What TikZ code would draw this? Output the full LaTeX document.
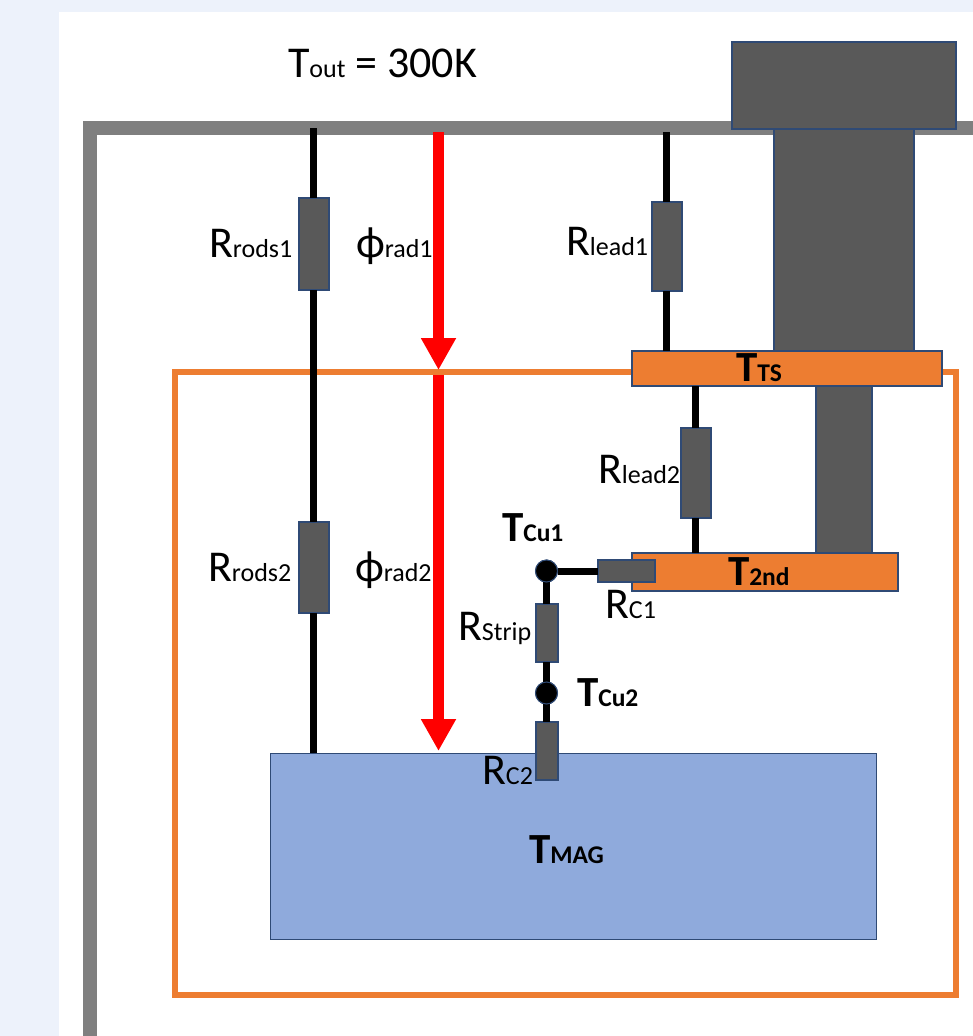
\documentclass[tikz,border=0pt]{standalone}
\usepackage{fontspec}
\setmainfont{Carlito}
\usetikzlibrary{arrows.meta}
\definecolor{bgpage}{HTML}{EDF2FB}
\definecolor{framegray}{HTML}{7F7F7F}
\definecolor{darkfill}{HTML}{595959}
\definecolor{edgeblue}{HTML}{2F4A75}
\definecolor{orng}{HTML}{ED7D31}
\definecolor{magblue}{HTML}{8FAADC}
\newcommand{\lbl}[2]{{\fontsize{44}{44}\selectfont #1\fontsize{26}{26}\selectfont #2}}
\newcommand{\blbl}[2]{{\bfseries\fontsize{43}{43}\selectfont #1\fontsize{25.5}{25.5}\selectfont #2}}
\tikzset{
  box/.style={rectangle,draw=edgeblue,line width=1.2pt,inner sep=0pt,outer sep=0pt},
  darkbox/.style={box,fill=darkfill},
  orangebox/.style={box,fill=orng},
  txt/.style={anchor=base west,inner sep=0pt,outer sep=0pt,text=black},
  wire/.style={draw=black,line width=7pt},
  heat/.style={draw=red,line width=10.5pt,-{Triangle[length=32pt,width=33pt]},shorten >=0pt},
  junction/.style={circle,fill=black,draw=edgeblue,line width=1pt,minimum size=22pt,inner sep=0pt,outer sep=0pt}
}
\newcommand{\bx}[5]{\node[#1,minimum width=#4pt-#2pt,minimum height=#5pt-#3pt] at ({(#2+#4)/2},{(#3+#5)/2})}
\begin{document}
\begin{tikzpicture}[x=1pt,y=-1pt]
\useasboundingbox (0,0) rectangle (973,1036);
\fill[bgpage] (0,0) rectangle (973,1036);
\fill[white] (59,12) rectangle (973,1036);
% outer thermal frame
\draw[framegray,line width=14pt] (90,1040) -- (90,128) -- (980,128);
% inner thermal shield
\draw[orng,line width=6.5pt] (175,372) rectangle (956,995);
% cold mass
\bx{box,fill=magblue,line width=1pt}{270}{753}{876}{939} (mag) {};
% cryocooler
\bx{darkbox}{774}{129}{914}{351} (col1) {};
\bx{darkbox}{816}{386}{872}{553} (col2) {};
\bx{darkbox}{732}{42}{956}{129} (head) {};
\bx{orangebox}{632}{351}{942}{386} (tts) {};
\bx{orangebox}{632}{553}{898}{591} (t2nd) {};
% free ends
\coordinate (rodtop) at (313,128);
\coordinate (leadtop) at (666,132);
\coordinate (leadlow) at (695,470);
\coordinate (h1a) at (438.5,132);
\coordinate (h1b) at (438.5,370);
\coordinate (h2a) at (438.5,375);
\coordinate (h2b) at (438.5,751);
% resistors
\bx{darkbox}{299}{198}{329}{290} (rr1) {};
\bx{darkbox}{299}{522}{329}{613} (rr2) {};
\bx{darkbox}{652}{202}{682}{291} (rl1) {};
\bx{darkbox}{681}{428}{711}{518} (rl2) {};
\bx{darkbox}{598}{560}{655}{582} (rc1) {};
\bx{darkbox}{536}{604}{558}{662} (rs) {};
\bx{darkbox}{536}{722}{558}{780} (rc2) {};
% junctions
\node[junction] (cu1) at (546.5,571) {};
\node[junction] (cu2) at (546.5,693) {};
% wires
\draw[wire] (rodtop) -- (rr1.north -| rodtop);
\draw[wire] (rr1.south -| rodtop) -- (rr2.north -| rodtop);
\draw[wire] (rr2.south -| rodtop) -- (mag.north -| rodtop);
\draw[wire] (leadtop) -- (rl1.north -| leadtop);
\draw[wire] (rl1.south -| leadtop) -- (tts.north -| leadtop);
\draw[wire] (tts.south -| leadlow) -- (rl2.north -| leadlow);
\draw[wire] (rl2.south -| leadlow) -- (t2nd.north -| leadlow);
\draw[wire] (cu1) -- (rc1.west |- cu1);
\draw[wire] (cu1) -- (rs.north -| cu1);
\draw[wire] (rs.south -| cu2) -- (cu2);
\draw[wire] (cu2) -- (rc2.north -| cu2);
\node[junction] at (cu1) {};
\node[junction] at (cu2) {};
% radiation arrows
\draw[heat] (h1a) -- (h1b);
\draw[heat] (h2a) -- (h2b);
% labels
\node[txt] (ltout) at (288,77) {\lbl{T}{out}\fontsize{44}{44}\selectfont{} = 300K};
\node[txt] (lrr1) at (209,257) {\lbl{R}{rods1}};
\node[txt] (lrr2) at (208,581) {\lbl{R}{rods2}};
\node[txt] (lp1) at (356,257) {\lbl{ϕ}{rad1}};
\node[txt] (lp2) at (355,581) {\lbl{ϕ}{rad2}};
\node[txt] (lrl1) at (566,255) {\lbl{R}{lead1}};
\node[txt] (lrl2) at (598,483) {\lbl{R}{lead2}};
\node[txt] (lcu1) at (502,541) {\blbl{T}{Cu1}};
\node[txt] (lcu2) at (577,706) {\blbl{T}{Cu2}};
\node[txt] (lrc1) at (605,618) {\lbl{R}{C1}};
\node[txt] (lrc2) at (482,784) {\lbl{R}{C2}};
\node[txt] (lrs) at (458,640) {\lbl{R}{Strip}};
\node[txt] (lts) at (736,381) {\blbl{T}{TS}};
\node[txt] (l2nd) at (728,585) {\blbl{T}{2nd}};
\node[txt] (lmag) at (529,863) {\blbl{T}{MAG}};
\end{tikzpicture}
\end{document}
